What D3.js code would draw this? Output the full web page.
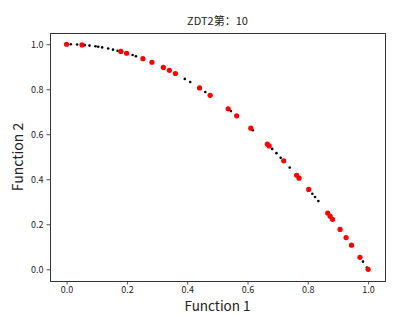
<!DOCTYPE html>
<html>
<head>
<meta charset="utf-8">
<script src="https://cdn.jsdelivr.net/npm/d3@7"></script>
<style>
  body { margin: 0; background: #fff; }
  text { font-family: "Noto Sans CJK SC", "DejaVu Sans", sans-serif; fill: #222; }
</style>
</head>
<body>
<div id="chart"></div>
<script>
var title = 'ZDT2第：10';
var xLabel = 'Function 1', yLabel = 'Function 2';
var tickValues = [0, 0.2, 0.4, 0.6, 0.8, 1.0];

// black: reference front points
var frontF1 = [0.014, 0.035, 0.060, 0.076, 0.096, 0.105, 0.118, 0.138, 0.154, 0.169,
  0.219, 0.230, 0.392, 0.410, 0.460, 0.545, 0.618, 0.682, 0.696, 0.710,
  0.740, 0.815, 0.824, 0.835, 0.983, 0.996];
var frontF2 = [1.000, 0.999, 0.996, 0.994, 0.991, 0.989, 0.986, 0.981, 0.976, 0.971,
  0.952, 0.947, 0.846, 0.832, 0.788, 0.703, 0.618, 0.535, 0.516, 0.496,
  0.452, 0.336, 0.321, 0.303, 0.034, 0.008];

// red: population
var popF1 = [0.000, 0.051, 0.180, 0.199, 0.253, 0.283, 0.321, 0.341, 0.361, 0.441,
  0.476, 0.536, 0.564, 0.611, 0.666, 0.672, 0.720, 0.763, 0.771, 0.803,
  0.866, 0.874, 0.882, 0.907, 0.927, 0.945, 0.973, 1.000];
var popF2 = [1.000, 0.997, 0.968, 0.960, 0.936, 0.920, 0.897, 0.884, 0.870, 0.806,
  0.773, 0.713, 0.682, 0.627, 0.556, 0.548, 0.482, 0.418, 0.405, 0.355,
  0.250, 0.236, 0.222, 0.177, 0.141, 0.107, 0.053, 0.000];

var width = 404, height = 316;
var margin = {top: 33, right: 19, bottom: 35, left: 50};

var svg = d3.select('#chart').append('svg')
  .attr('width', width)
  .attr('height', height);

var x = d3.scaleLinear().domain([-0.055, 1.056]).range([margin.left, width - margin.right]);
var y = d3.scaleLinear().domain([-0.052, 1.05]).range([height - margin.bottom, margin.top]);

//axes
var xAxis = svg.append('g')
  .attr('transform', 'translate(0,' + (height - margin.bottom) + ')')
  .call(d3.axisBottom(x).tickValues(tickValues).tickFormat(d3.format('.1f')).tickSizeOuter(0).tickSize(3.5).tickPadding(2.5));
var yAxis = svg.append('g')
  .attr('transform', 'translate(' + margin.left + ',0)')
  .call(d3.axisLeft(y).tickValues(tickValues).tickFormat(d3.format('.1f')).tickSizeOuter(0).tickSize(3.5).tickPadding(3));
[xAxis, yAxis].forEach(function(a) {
  a.select('.domain').remove();
  a.selectAll('line').attr('stroke', '#222').attr('stroke-width', 0.8);
  a.selectAll('text').style('font-size', '9px').style('fill', '#222')
    .style('font-family', '"Noto Sans CJK SC", sans-serif');
});

// frame
svg.append('rect')
  .attr('x', margin.left + 0.5)
  .attr('y', margin.top + 0.5)
  .attr('width', width - margin.left - margin.right)
  .attr('height', height - margin.top - margin.bottom)
  .attr('fill', 'none')
  .attr('stroke', '#333')
  .attr('stroke-width', 1);

// points
svg.append('g').selectAll('circle')
  .data(frontF1)
  .enter().append('circle')
  .attr('cx', function(d) { return x(d); })
  .attr('cy', function(d, i) { return y(frontF2[i]); })
  .attr('r', 1.3)
  .attr('fill', 'black');

svg.append('g').selectAll('circle')
  .data(popF1)
  .enter().append('circle')
  .attr('cx', function(d) { return x(d); })
  .attr('cy', function(d, i) { return y(popF2[i]); })
  .attr('r', 2.6)
  .attr('fill', 'red');

// labels
svg.append('text')
  .attr('x', (margin.left + width - margin.right) / 2)
  .attr('y', 25)
  .attr('text-anchor', 'middle')
  .style('font-size', '11px')
  .text(title);

svg.append('text')
  .attr('x', (margin.left + width - margin.right) / 2)
  .attr('y', 311)
  .attr('text-anchor', 'middle')
  .style('font-size', '13.5px')
  .text(xLabel);

svg.append('text')
  .attr('transform', 'translate(23,' + ((margin.top + height - margin.bottom) / 2) + ') rotate(-90)')
  .attr('text-anchor', 'middle')
  .style('font-size', '14px')
  .text(yLabel);
</script>
</body>
</html>
